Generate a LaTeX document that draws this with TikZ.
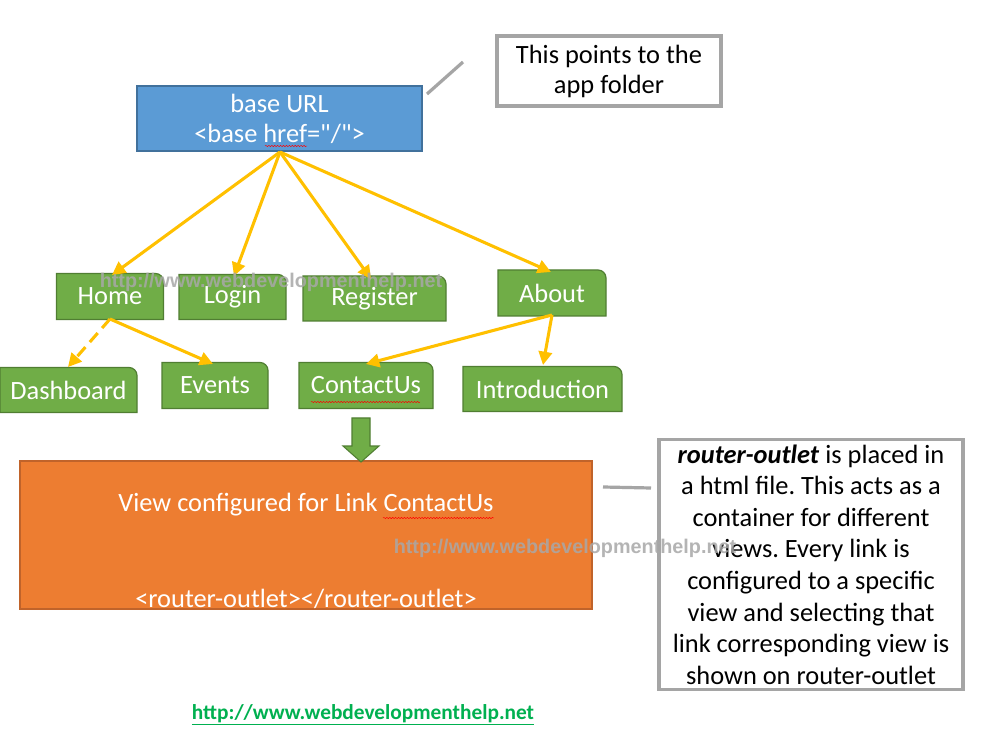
\documentclass[tikz,border=0pt]{standalone}
\usepackage{fontspec}
\setmainfont{Carlito}[Ligatures=TeXOff]
\newfontfamily\wmfont{Liberation Sans}
\usetikzlibrary{arrows.meta,decorations.pathmorphing}
\pgfdeclarelayer{bg}
\pgfsetlayers{bg,main}
\frenchspacing
\definecolor{bluefill}{HTML}{5B9BD5}
\definecolor{blueedge}{HTML}{41719C}
\definecolor{greenfill}{HTML}{70AD47}
\definecolor{greenedge}{HTML}{507E32}
\definecolor{orangefill}{HTML}{ED7D31}
\definecolor{orangeedge}{HTML}{C0632A}
\definecolor{linkyellow}{HTML}{FFC000}
\definecolor{calloutgray}{HTML}{A5A5A5}
\definecolor{wmgray}{HTML}{A8A8A8}
\definecolor{linkgreen}{HTML}{00B050}
\tikzset{
  x=0.75pt, y=-0.75pt,
  every node/.style={inner sep=0pt, outer sep=0pt},
  bodytext/.style={font=\fontsize{19.8}{22.5}\selectfont, align=center},
  bluebox/.style={bodytext, fill=bluefill, draw=blueedge, line width=0.9pt, text=white},
  greenbox/.style={bodytext, text=white, anchor=center},
  greenshape/.style={fill=greenfill, draw=greenedge, line width=0.9pt},
  orangebox/.style={fill=orangefill, draw=orangeedge, line width=0.9pt},
  graybox/.style={bodytext, draw=calloutgray, line width=2.4pt, fill=white},
  grayline/.style={draw=calloutgray, line width=2.4pt},
  yarrow/.style={draw=linkyellow, line width=2.3pt, -{Triangle[length=10pt,width=10pt]}},
  watermark/.style={font=\wmfont\bfseries\fontsize{14.85}{16}\selectfont, text=wmgray, opacity=0.85},
  squiggle/.style={draw=red, line width=0.35pt, decorate, decoration={snake, amplitude=0.5pt, segment length=2.2pt}},
}
\newcommand{\gbox}[5]{%
  \node[greenbox, minimum width=#4*0.75pt, minimum height=#5*0.75pt] (#1) at (#2) {#3};
  \begin{pgfonlayer}{bg}
  \path[greenshape] (#1.south west) -- (#1.north west) -- ([xshift=-6pt]#1.north east)
     arc[start angle=90, end angle=0, radius=6pt] -- (#1.south east) -- cycle;
  \end{pgfonlayer}}
\begin{document}
\begin{tikzpicture}
\begin{pgfonlayer}{bg}
\fill[white] (0,0) rectangle (995,737);
\end{pgfonlayer}
\useasboundingbox (0,0) rectangle (995,737);

% top blue box
\node[bluebox, minimum width=285*0.75pt, minimum height=65*0.75pt] (base) at (279.5,118.5) {base URL\\\textless base href="/"\textgreater};
\node[graybox, minimum width=224*0.75pt, minimum height=70*0.75pt] (note1) at (609,71) {This points to the\\app folder};
\coordinate (c1a) at (427,94);
\coordinate (c1b) at (463,62);
\draw[grayline] (c1a) -- (c1b);
\draw[squiggle] (265,146) -- (307,146);

% first level
\gbox{home}{110,296.5}{Home}{107}{46}
\gbox{login}{232.5,297}{Login}{107}{45}
\gbox{register}{374.5,298.5}{Register}{143}{45}
\gbox{about}{552,293}{About}{108}{46}

% second level
\gbox{dash}{68.5,390}{Dashboard}{137}{45}
\gbox{events}{215,385.5}{Events}{106}{46}
\gbox{contact}{366,385.5}{ContactUs}{134}{46}
\gbox{intro}{542.5,389}{Introduction}{159}{45}
\draw[squiggle] (311,402) -- (420,402);

% connectors from base
\coordinate (root) at (280,152);
\draw[yarrow] (root) -- (112,275);
\draw[yarrow] (root) -- (234,276);
\draw[yarrow] (root) -- (371,279);
\draw[yarrow] (root) -- (551,272);

% connectors second level
\coordinate (homeb) at (110,319);
\coordinate (aboutb) at (552,315);
\draw[yarrow, dash pattern=on 9pt off 5pt] (homeb) -- (68,367);
\draw[yarrow] (homeb) -- (213,364);
\draw[yarrow] (aboutb) -- (366,364);
\draw[yarrow] (aboutb) -- (543,365);

% watermark 1
\node[watermark] (wm1) at (271,282) {http://www.webdevelopmenthelp.net};

% big orange view
\node[orangebox, minimum width=572*0.75pt, minimum height=148*0.75pt] (view) at (306,535) {};
\node[bodytext, text=white] (viewt1) at (306,505) {View configured for Link ContactUs};
\node[bodytext, text=white] (viewt2) at (306,599) {\textless router-outlet\textgreater\textless/router-outlet\textgreater};
\draw[squiggle] (383,518) -- (494,518);

% green down arrow
\path[fill=greenfill, draw=greenedge, line width=0.8pt]
  (352,418) -- (370,418) -- (370,446) -- (379,446) -- (361,462) -- (343,446) -- (352,446) -- cycle;

% right note
\node[graybox, minimum width=304*0.75pt, minimum height=250*0.75pt, font=\fontsize{19.8}{23.7}\selectfont] (note2) at (811,564.5)
  {\textbf{\textit{router-outlet}} is placed in\\a html file. This acts as a\\container for different\\views. Every link is\\configured to a specific\\view and selecting that\\link corresponding view is\\shown on router-outlet};
\coordinate (c2a) at (603,487);
\coordinate (c2b) at (651,488);
\draw[grayline] (c2a) -- (c2b);

% watermark 2
\node[watermark] (wm2) at (565,548) {http://www.webdevelopmenthelp.net};

% bottom link
\node[font=\bfseries\fontsize{16}{20}\selectfont, text=linkgreen] (link) at (363,715) {\underline{http://www.webdevelopmenthelp.net}};
\end{tikzpicture}
\end{document}
